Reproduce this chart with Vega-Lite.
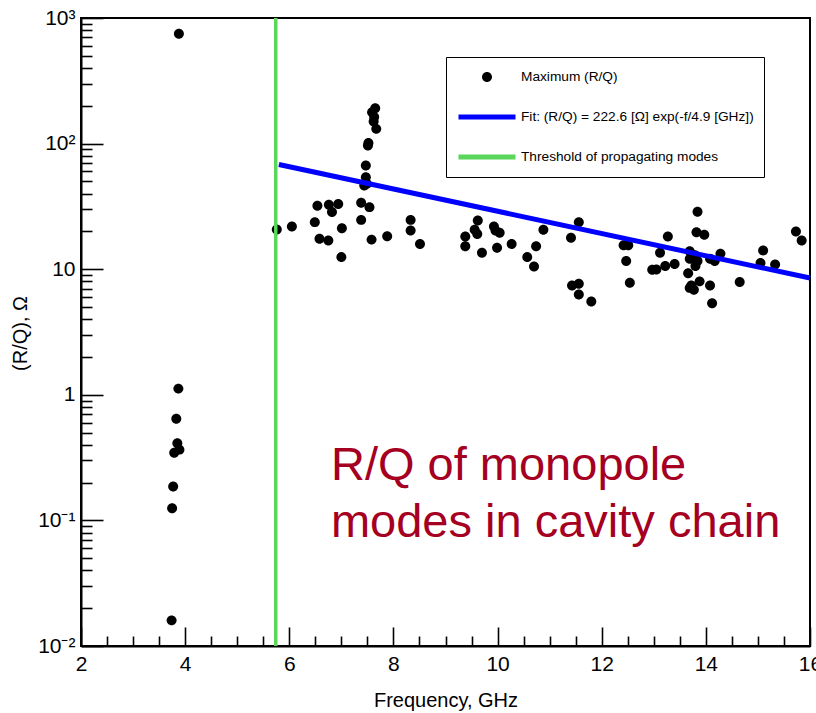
{
  "$schema": "https://vega.github.io/schema/vega-lite/v6.json",
  "width": 729,
  "height": 628,
  "autosize": {"type": "none"},
  "padding": {"left": 81, "top": 18, "right": 6, "bottom": 67},
  "background": "white",
  "config": {
    "view": {"stroke": "black", "strokeWidth": 2},
    "axis": {
      "domainColor": "black", "domainWidth": 2,
      "tickColor": "black", "tickWidth": 1.6, "tickOpacity": 1,
      "labelFont": "Liberation Sans", "labelColor": "black",
      "titleFont": "Liberation Sans", "titleColor": "black", "titleFontWeight": "normal",
      "grid": false
    },
    "legend": {
      "orient": "none",
      "legendX": 365,
      "legendY": 39,
      "padding": 10,
      "strokeColor": "black",
      "fillColor": "white",
      "clipHeight": 20,
      "rowPadding": 20,
      "labelOffset": 3,
      "labelFont": "Liberation Sans",
      "labelFontSize": 13.7,
      "labelColor": "black",
      "labelLimit": 400,
      "symbolOpacity": 1,
      "symbolSize": 3249,
      "symbolStrokeWidth": 5
    }
  },
  "datasets": {
    "points": [
      {"f": 3.87, "rq": 1.12}, {"f": 3.83, "rq": 0.644}, {"f": 3.85, "rq": 0.412}, {"f": 3.89, "rq": 0.366},
      {"f": 3.79, "rq": 0.345}, {"f": 3.77, "rq": 0.186}, {"f": 3.75, "rq": 0.125}, {"f": 3.74, "rq": 0.016},
      {"f": 3.88, "rq": 748},
      {"f": 5.76, "rq": 20.7}, {"f": 6.05, "rq": 21.9}, {"f": 6.49, "rq": 23.7}, {"f": 6.54, "rq": 32},
      {"f": 6.58, "rq": 17.5}, {"f": 6.75, "rq": 16.9}, {"f": 6.76, "rq": 32.6}, {"f": 6.82, "rq": 28.5},
      {"f": 6.94, "rq": 33.1}, {"f": 7.01, "rq": 21.2}, {"f": 7.0, "rq": 12.5}, {"f": 7.38, "rq": 33.8},
      {"f": 7.38, "rq": 24.7}, {"f": 7.54, "rq": 31.2}, {"f": 7.58, "rq": 17.2}, {"f": 7.88, "rq": 18.3},
      {"f": 7.47, "rq": 67}, {"f": 7.47, "rq": 54}, {"f": 7.44, "rq": 46.4}, {"f": 7.49, "rq": 47.9},
      {"f": 7.51, "rq": 96.6}, {"f": 7.52, "rq": 101}, {"f": 7.59, "rq": 178}, {"f": 7.65, "rq": 191},
      {"f": 7.62, "rq": 150}, {"f": 7.67, "rq": 131}, {"f": 7.63, "rq": 163},
      {"f": 8.33, "rq": 24.7}, {"f": 8.33, "rq": 20.3}, {"f": 8.51, "rq": 15.9},
      {"f": 9.38, "rq": 18.2}, {"f": 9.38, "rq": 15.2}, {"f": 9.62, "rq": 24.4}, {"f": 9.56, "rq": 20.6},
      {"f": 9.61, "rq": 19.1}, {"f": 9.7, "rq": 13.5}, {"f": 9.93, "rq": 21.9}, {"f": 9.96, "rq": 20.3},
      {"f": 10.04, "rq": 19.5}, {"f": 9.99, "rq": 14.8}, {"f": 10.27, "rq": 15.9}, {"f": 10.57, "rq": 12.5},
      {"f": 10.7, "rq": 10.5}, {"f": 10.74, "rq": 15.2}, {"f": 10.88, "rq": 20.6}, {"f": 11.41, "rq": 17.8},
      {"f": 11.56, "rq": 23.7}, {"f": 11.43, "rq": 7.41}, {"f": 11.56, "rq": 7.65}, {"f": 11.56, "rq": 6.29},
      {"f": 11.8, "rq": 5.53},
      {"f": 12.42, "rq": 15.5}, {"f": 12.51, "rq": 15.5}, {"f": 12.47, "rq": 11.6}, {"f": 12.54, "rq": 7.8},
      {"f": 13.27, "rq": 18.2}, {"f": 13.12, "rq": 13.5}, {"f": 12.97, "rq": 9.88}, {"f": 13.05, "rq": 9.94},
      {"f": 13.22, "rq": 10.6}, {"f": 13.4, "rq": 11.0}, {"f": 13.84, "rq": 28.7}, {"f": 13.82, "rq": 19.7},
      {"f": 13.97, "rq": 18.8}, {"f": 13.69, "rq": 13.9}, {"f": 13.69, "rq": 12.1}, {"f": 13.79, "rq": 12.9},
      {"f": 13.84, "rq": 11.6}, {"f": 13.8, "rq": 10.6}, {"f": 13.66, "rq": 9.3}, {"f": 13.72, "rq": 7.41},
      {"f": 13.77, "rq": 6.86}, {"f": 13.69, "rq": 7.1}, {"f": 13.88, "rq": 8.0}, {"f": 14.08, "rq": 7.41},
      {"f": 14.12, "rq": 5.36}, {"f": 14.08, "rq": 12.1}, {"f": 14.17, "rq": 11.6}, {"f": 14.28, "rq": 13.3},
      {"f": 14.65, "rq": 7.9}, {"f": 15.1, "rq": 14.1}, {"f": 15.05, "rq": 11.2}, {"f": 15.33, "rq": 10.9},
      {"f": 15.73, "rq": 20.0}, {"f": 15.84, "rq": 16.9}
    ],
    "fit": [
      {"f": 5.8, "rq": 68.2},
      {"f": 16, "rq": 8.5}
    ],
    "threshold": [
      {"f": 5.74}
    ],
    "note": [
      {"f": 6.8, "rq": 0.2105, "text": "R/Q of monopole"},
      {"f": 6.8, "rq": 0.0735, "text": "modes in cavity chain"}
    ]
  },
  "resolve": {"axis": {"x": "independent", "y": "independent"}},
  "layer": [
    {
      "data": {"name": "points"},
      "transform": [{"calculate": "'Maximum (R/Q)'", "as": "series"}],
      "mark": {"type": "point", "filled": true, "opacity": 1, "size": 3249},
      "encoding": {
        "x": {
          "field": "f", "type": "quantitative",
          "scale": {"domain": [2, 16], "nice": false, "zero": false},
          "axis": {
            "orient": "bottom",
            "title": "Frequency, GHz",
            "values": [2, 4, 6, 8, 10, 12, 14, 16],
            "format": "d",
            "tickSize": -19,
            "labelPadding": 26,
            "labelFontSize": 21,
            "labelFlush": false,
            "labelOverlap": false,
            "titleFontSize": 20,
            "titleY": 60,
            "titleBaseline": "alphabetic"
          }
        },
        "y": {
          "field": "rq", "type": "quantitative",
          "scale": {"type": "log", "domain": [0.01, 1000], "nice": false},
          "axis": {
            "orient": "left",
            "title": "(R/Q), Ω",
            "values": [0.01, 0.1, 1, 10, 100, 1000],
            "labelExpr": "datum.value == 0.01 ? '10⁻²' : datum.value == 0.1 ? '10⁻¹' : datum.value == 1 ? '1' : datum.value == 10 ? '10' : datum.value == 100 ? '10²' : '10³'",
            "tickSize": -22,
            "labelPadding": 28,
            "labelFontSize": 21,
            "labelFlush": false,
            "labelOverlap": false,
            "titleFontSize": 20,
            "titleX": -55,
            "titleY": 315,
            "titleAngle": -90,
            "titleAlign": "center",
            "titleBaseline": "alphabetic"
          }
        },
        "fill": {
          "field": "series", "type": "nominal",
          "scale": {
            "domain": ["Maximum (R/Q)", "Fit: (R/Q) = 222.6 [Ω] exp(-f/4.9 [GHz])", "Threshold of propagating modes"],
            "range": ["black", "transparent", "transparent"]
          },
          "legend": {"title": null}
        },
        "stroke": {
          "field": "series", "type": "nominal",
          "scale": {
            "domain": ["Maximum (R/Q)", "Fit: (R/Q) = 222.6 [Ω] exp(-f/4.9 [GHz])", "Threshold of propagating modes"],
            "range": ["transparent", "#0000ff", "#5ad65a"]
          },
          "legend": {"title": null}
        },
        "shape": {
          "field": "series", "type": "nominal",
          "scale": {
            "domain": ["Maximum (R/Q)", "Fit: (R/Q) = 222.6 [Ω] exp(-f/4.9 [GHz])", "Threshold of propagating modes"],
            "range": ["M0.175,0A0.175,0.175,0,1,1,-0.175,0A0.175,0.175,0,1,1,0.175,0Z", "stroke", "stroke"]
          },
          "legend": {"title": null}
        }
      }
    },
    {
      "data": {"name": "fit"},
      "transform": [{"calculate": "'Fit: (R/Q) = 222.6 [Ω] exp(-f/4.9 [GHz])'", "as": "series"}],
      "mark": {"type": "line", "strokeWidth": 5},
      "encoding": {
        "x": {
          "field": "f", "type": "quantitative",
          "axis": {
            "orient": "bottom",
            "title": null,
            "labels": false,
            "domain": false,
            "values": [2.5, 3, 3.5, 4.5, 5, 5.5, 6.5, 7, 7.5, 8.5, 9, 9.5, 10.5, 11, 11.5, 12.5, 13, 13.5, 14.5, 15, 15.5],
            "tickSize": -10
          }
        },
        "y": {
          "field": "rq", "type": "quantitative",
          "axis": {
            "orient": "left",
            "title": null,
            "labels": false,
            "domain": false,
            "values": [0.02, 0.03, 0.04, 0.05, 0.06, 0.07, 0.08, 0.09, 0.2, 0.3, 0.4, 0.5, 0.6, 0.7, 0.8, 0.9, 2, 3, 4, 5, 6, 7, 8, 9, 20, 30, 40, 50, 60, 70, 80, 90, 200, 300, 400, 500, 600, 700, 800, 900],
            "tickSize": -11
          }
        },
        "stroke": {"field": "series", "type": "nominal", "legend": {"title": null}}
      }
    },
    {
      "data": {"name": "threshold"},
      "transform": [{"calculate": "'Threshold of propagating modes'", "as": "series"}],
      "mark": {"type": "rule", "strokeWidth": 3.5},
      "encoding": {
        "x": {"field": "f", "type": "quantitative", "axis": null},
        "stroke": {"field": "series", "type": "nominal", "legend": {"title": null}}
      }
    },
    {
      "data": {"name": "note"},
      "mark": {"type": "text", "align": "left", "baseline": "alphabetic", "font": "Liberation Sans", "fontSize": 47, "color": "#a50021"},
      "encoding": {
        "x": {"field": "f", "type": "quantitative", "axis": null},
        "y": {"field": "rq", "type": "quantitative", "axis": null},
        "text": {"field": "text"}
      }
    }
  ]
}
